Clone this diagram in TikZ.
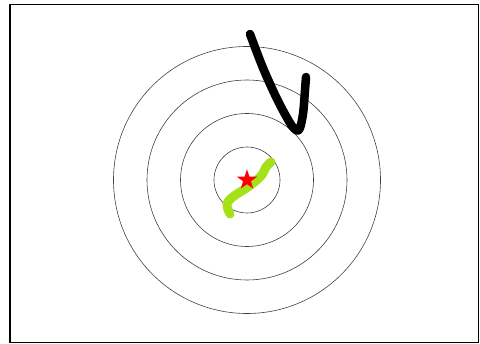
\documentclass[tikz,border=0pt]{standalone}
\usetikzlibrary{shapes.geometric}
\definecolor{shotgreen}{RGB}{165,225,25}
\tikzset{
  ring/.style={draw=black!75,line width=0.6pt},
  stroke/.style={line width=#1,line cap=round,line join=round}
}
\begin{document}
\begin{tikzpicture}[x=1pt,y=-1pt]
\useasboundingbox (0,0) rectangle (480,344);
\draw[line width=1.8pt] (10,4.5) rectangle (478.5,342.5);
\coordinate (c) at (247,180);
\foreach \r in {33,66.5,100,133.5}
  \draw[ring] (c) circle (\r);
\draw[stroke=9pt,shotgreen] plot[smooth,tension=0.6] coordinates {(230,214) (227,204) (234,196) (248,187) (261,176) (266,167) (271,162)};
\node[star,star points=5,star point ratio=2.5,fill=red,inner sep=0pt,minimum size=21pt] (target) at (c) {};
\draw[stroke=8.5pt,black] plot[smooth,tension=0.5] coordinates {(250,34) (263,68) (278,101) (292,126) (299,130) (303,114) (305,90) (306,77)};
\end{tikzpicture}
\end{document}
